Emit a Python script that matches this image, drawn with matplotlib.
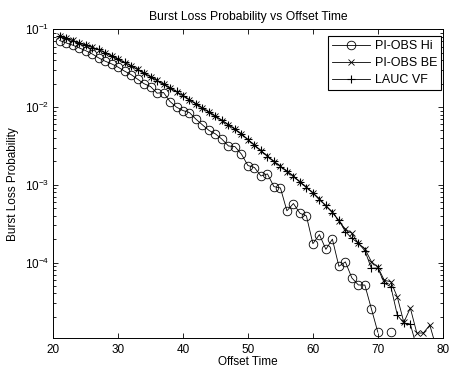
import numpy as np
import matplotlib
matplotlib.use("Agg")
import matplotlib.pyplot as plt

# offset time (x axis)
offset_time = list(range(21, 80))

# PI-OBS Hi (nan where no loss was recorded)
pi_obs_hi = [0.0718, 0.0670, 0.0627, 0.0578, 0.0533, 0.0484, 0.0430, 0.0390, 0.0360, 0.0327,
             0.0290, 0.0262, 0.0229, 0.0200, 0.0184, 0.0151, 0.0154, 0.0118, 0.00998, 0.00902,
             0.00849, 0.00698, 0.00590, 0.00501, 0.00452, 0.00386, 0.00316, 0.00310, 0.00248, 0.00177,
             0.00167, 0.00130, 0.00138, 0.000948, 0.000912, 0.000463, 0.000575, 0.000431, 0.000398, 0.000175,
             0.000229, 0.000148, 0.000200, 0.0000895, 0.000102, 0.0000634, 0.0000515, 0.0000513, 0.0000255, 0.0000127,
             np.nan, 0.0000127, np.nan, np.nan, np.nan, np.nan, np.nan, np.nan, np.nan]

# PI-OBS BE
pi_obs_be = [0.0830, 0.0775, 0.0722, 0.0676, 0.0628, 0.0590, 0.0548, 0.0503, 0.0457, 0.0415,
             0.0373, 0.0342, 0.0307, 0.0272, 0.0247, 0.0221, 0.0196, 0.0178, 0.0157, 0.0141,
             0.0125, 0.0109, 0.00975, 0.00858, 0.00770, 0.00672, 0.00597, 0.00515, 0.00455, 0.00380,
             0.00327, 0.00272, 0.00237, 0.00198, 0.00175, 0.00148, 0.00131, 0.00108, 0.000940, 0.000780,
             0.000665, 0.000530, 0.000450, 0.000340, 0.000270, 0.000238, 0.000176, 0.000150, 0.000103, 0.0000870,
             0.0000590, 0.0000568, 0.0000360, 0.0000170, 0.0000260, 0.0000124, 0.0000124, 0.0000157, 0.0000080]

# LAUC VF
lauc_vf = [0.0818, 0.0768, 0.0716, 0.0670, 0.0632, 0.0584, 0.0552, 0.0499, 0.0453, 0.0411,
           0.0377, 0.0338, 0.0303, 0.0276, 0.0243, 0.0219, 0.0198, 0.0174, 0.0159, 0.0139,
           0.0123, 0.0111, 0.00965, 0.00864, 0.00758, 0.00678, 0.00587, 0.00522, 0.00446, 0.00384,
           0.00321, 0.00278, 0.00231, 0.00202, 0.00171, 0.00152, 0.00127, 0.00110, 0.000918, 0.000794,
           0.000640, 0.000545, 0.000436, 0.000352, 0.000250, 0.000205, 0.000178, 0.000142, 0.0000845, 0.0000850,
           0.0000542, 0.0000490, 0.0000211, 0.0000166, 0.0000162, 0.0000080, np.nan, np.nan, np.nan]

plt.rcParams['font.family'] = ['Liberation Sans', 'DejaVu Sans']
plt.rcParams['mathtext.fontset'] = 'custom'
plt.rcParams['mathtext.rm'] = 'Liberation Sans'
plt.rcParams['font.size'] = 8.5

fig = plt.figure(figsize=(4.5, 3.67), dpi=100)
ax = fig.add_axes([0.118, 0.079, 0.866, 0.841])

ax.semilogy(offset_time, pi_obs_hi, '-o', color='black', lw=0.6, ms=6.2,
            mfc='none', mew=0.6, label='PI-OBS Hi')
ax.semilogy(offset_time, pi_obs_be, '-x', color='black', lw=0.6, ms=4,
            mew=0.6, label='PI-OBS BE')
ax.semilogy(offset_time, lauc_vf, '-+', color='black', lw=0.6, ms=6,
            mew=0.8, label='LAUC VF')

ax.set_xlim(20, 80)
ax.set_ylim(1.07e-5, 1e-1)
ax.set_xticks([20, 30, 40, 50, 60, 70, 80])
ax.set_yticks([1e-4, 1e-3, 1e-2, 1e-1])
ax.tick_params(which='both', direction='in', top=True, right=True, width=0.6)
ax.tick_params(which='major', length=3.5)
ax.tick_params(axis='x', which='major', pad=4.5)
ax.tick_params(axis='y', which='major', pad=3)
ax.tick_params(which='minor', length=2)
ax.tick_params(axis='x', which='minor', bottom=False, top=False)
for s in ax.spines.values():
    s.set_linewidth(0.7)

ax.set_title('Burst Loss Probability vs Offset Time', fontsize=8.75, pad=7)
ax.set_xlabel('Offset Time', labelpad=0)
ax.set_ylabel('Burst Loss Probability', labelpad=4)

leg = ax.legend(loc='upper right', bbox_to_anchor=(0.995, 0.977), borderaxespad=0,
                fancybox=False, edgecolor='black', framealpha=1, handlelength=3.0,
                borderpad=0.3, labelspacing=0.4, handletextpad=0.4, fontsize=9)
leg.get_frame().set_linewidth(0.8)

fig.savefig('out.png', dpi=100)
